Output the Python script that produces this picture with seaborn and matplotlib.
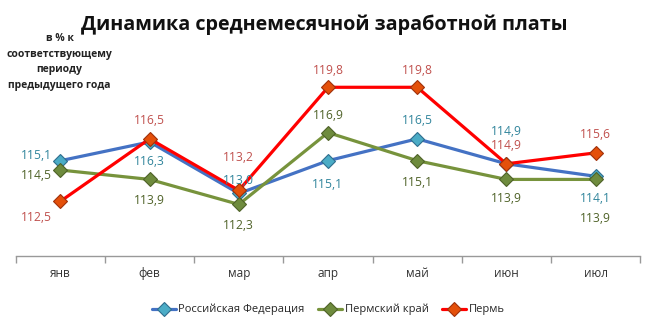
import matplotlib
matplotlib.use("Agg")
import matplotlib.pyplot as plt
import seaborn as sns
import pandas as pd

months = ["янв", "фев", "мар", "апр", "май", "июн", "июл"]
rf = [115.1, 116.3, 113.0, 115.1, 116.5, 114.9, 114.1]
krai = [114.5, 113.9, 112.3, 116.9, 115.1, 113.9, 113.9]
perm = [112.5, 116.5, 113.2, 119.8, 119.8, 114.9, 115.6]
series_names = ["Российская Федерация", "Пермский край", "Пермь"]

sns.set_theme(style="white")
plt.rcParams['font.family'] = ['Open Sans', 'DejaVu Sans']

fig = plt.figure(figsize=(6.62, 3.35), dpi=100)
ax = fig.add_axes([0.024, 0.236, 0.943, 0.606])

styles = [
    dict(line="#4472C4", face="#4BACC6", edge="#2E6E8E", text="#31859C"),
    dict(line="#77933C", face="#6E8B3D", edge="#4F6228", text="#4F6228"),
    dict(line="#FF0000", face="#E4500A", edge="#A0300A", text="#C0504D"),
]
# label offsets (points) per series / point
offsets = [
    [(-17, 4), (0, -14), (0, 9), (0, -17), (0, 13), (0, 23), (0, -16)],
    [(-17, -4), (0, -15), (0, -15), (0, 12), (0, -16), (0, -14), (0, -28)],
    [(-17, -12), (0, 13), (0, 24), (0, 12), (0, 12), (0, 13), (0, 13)],
]

for name, vals, st, offs in zip(series_names, [rf, krai, perm], styles, offsets):
    df = pd.DataFrame({"x": range(len(months)), "y": vals})
    sns.lineplot(data=df, x="x", y="y", ax=ax, color=st["line"], linewidth=2.3,
                 marker="D", markersize=7.5, markerfacecolor=st["face"],
                 markeredgecolor=st["edge"], markeredgewidth=0.8, label=name)
    for i, v in enumerate(vals):
        ax.annotate(f"{v:.1f}".replace(".", ","), (i, v), xytext=offs[i],
                    textcoords="offset points", ha="center", va="center",
                    fontsize=8.7, color=st["text"])

ax.set_xlim(-0.5, len(months) - 0.5)
ax.set_ylim(109, 122)
ax.set_xticks(range(len(months)))
ax.set_xticklabels(months, fontsize=8.5, color="#333333")
ax.set_xticks([i - 0.5 for i in range(len(months) + 1)], minor=True)
ax.tick_params(axis="x", which="major", length=0, pad=8)
ax.tick_params(axis="x", which="minor", length=5, color="#999999", bottom=True)
ax.set_yticks([])
ax.set_xlabel("")
ax.set_ylabel("")
for s in ["top", "right", "left"]:
    ax.spines[s].set_visible(False)
ax.spines["bottom"].set_color("#999999")
ax.spines["bottom"].set_linewidth(1)

ax.legend(loc="center", bbox_to_anchor=(0.5, -0.265), ncol=3, frameon=False,
          fontsize=8, handlelength=2.2, handletextpad=0.2, columnspacing=1.2)

fig.text(0.49, 0.925, "Динамика среднемесячной заработной платы",
         ha="center", va="center", fontsize=14.2, fontweight="bold", color="#111111")
fig.text(0.09, 0.815, "в % к\nсоответствующему\nпериоду\nпредыдущего года",
         ha="center", va="center", fontsize=7.5, fontweight="bold", color="#222222",
         linespacing=1.6)

fig.savefig("out.png", dpi=100)
